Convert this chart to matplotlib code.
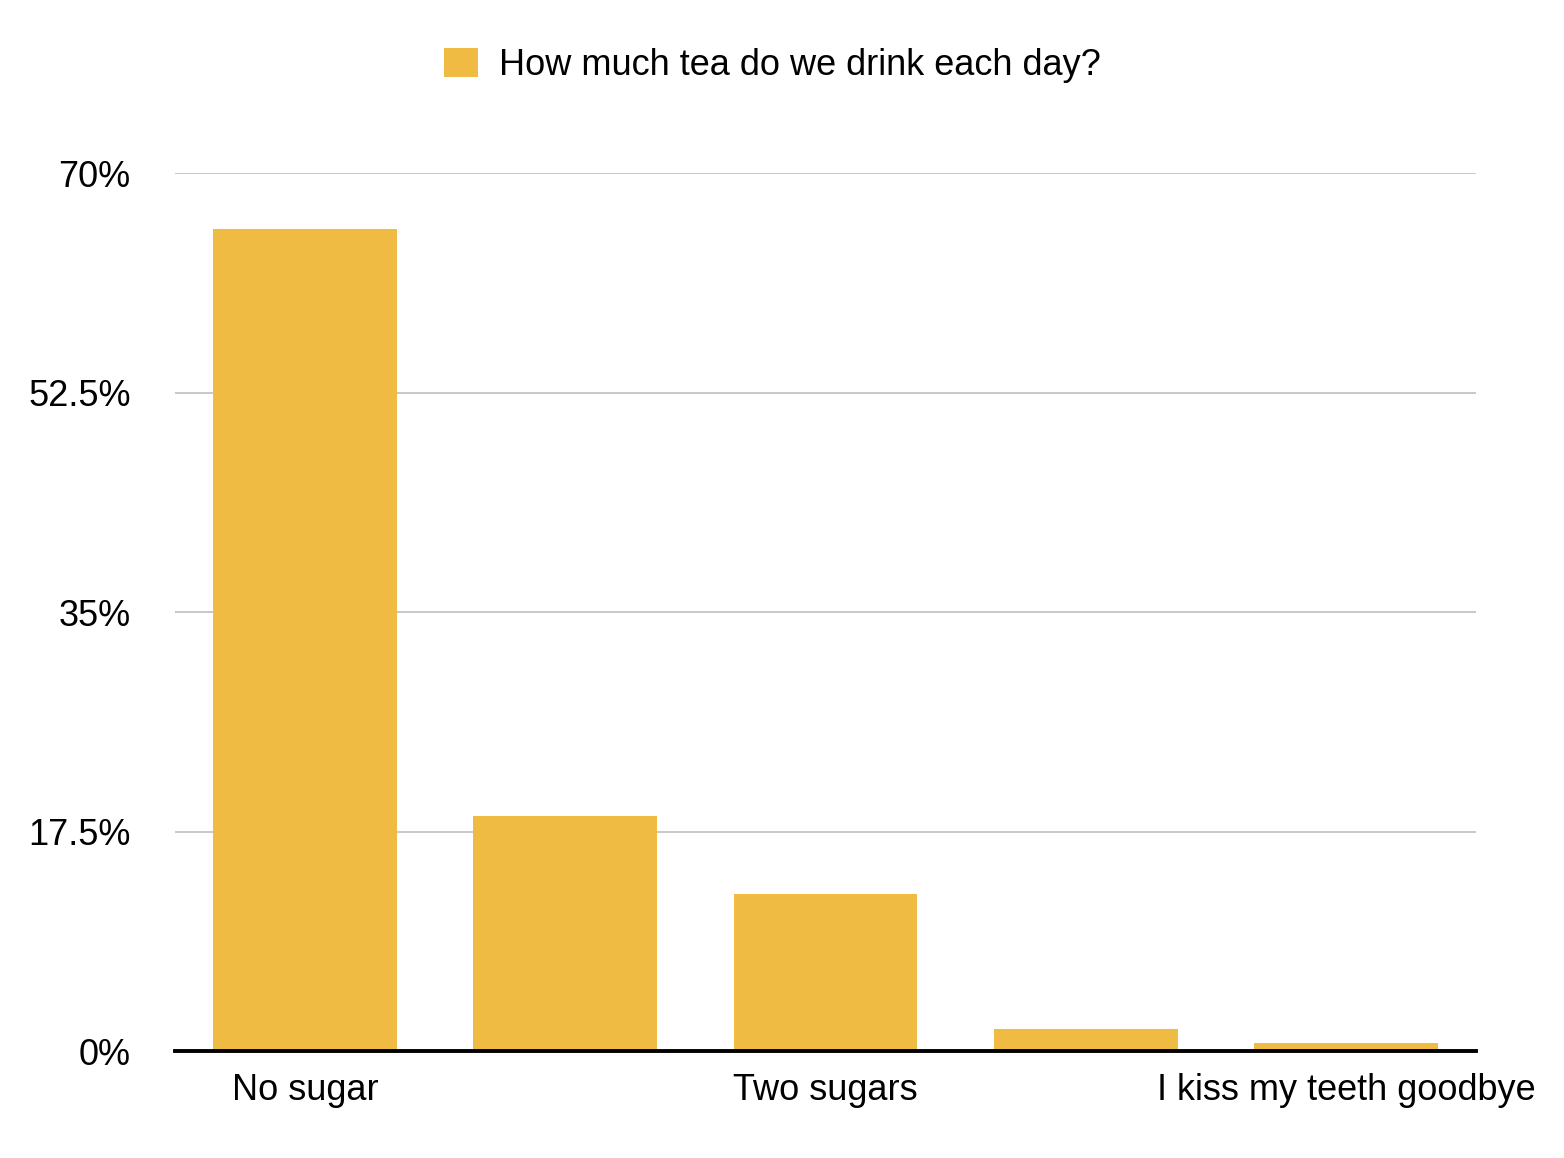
import matplotlib.pyplot as plt
from matplotlib.ticker import FuncFormatter

# survey results (percent)
categories = ['No sugar', 'One sugar', 'Two sugars', 'Three sugars', 'I kiss my teeth goodbye']
shown_labels = ['No sugar', '', 'Two sugars', '', 'I kiss my teeth goodbye']
values = [65.5, 18.7, 12.5, 1.75, 0.65]
yticks = [0, 17.5, 35, 52.5, 70]
series_name = 'How much tea do we drink each day?'

plt.rcParams['font.family'] = ['Liberation Sans', 'DejaVu Sans']

fig = plt.figure(figsize=(15.64, 11.58), dpi=100)
ax = fig.add_axes([0.1119, 0.0924, 0.8318, 0.7582])

bars = ax.bar(range(len(categories)), values, width=0.707, color='#EFBB42',
              label=series_name, zorder=2)

ax.set_xlim(-0.5, len(categories) - 0.5)
ax.set_ylim(0, 70)
ax.set_yticks(yticks)
ax.yaxis.set_major_formatter(FuncFormatter(lambda v, p: f'{v:g}%'))
ax.set_xticks(range(len(categories)))
ax.set_xticklabels(shown_labels)

ax.grid(axis='y', color='#c4c4c4', linewidth=1.3, zorder=0)
for s in ['left', 'right', 'top']:
    ax.spines[s].set_visible(False)
ax.spines['bottom'].set_linewidth(2.8)
ax.spines['bottom'].set_zorder(3)
ax.tick_params(axis='y', length=0, pad=32, labelsize=26)
ax.tick_params(axis='x', length=0, pad=16, labelsize=26)

fig.legend(handles=[bars], labels=[series_name], loc='center',
           bbox_to_anchor=(0.494, 0.9435), frameon=False, fontsize=26,
           handlelength=0.94, handleheight=0.86, handletextpad=0.6)

fig.savefig('out.png', dpi=100)
